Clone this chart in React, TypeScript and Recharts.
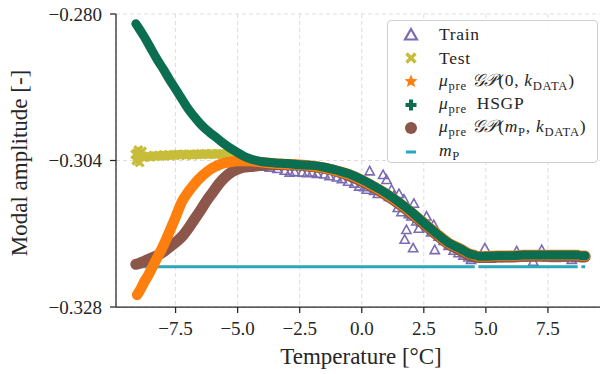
import React from 'react';
import {
  ComposedChart,
  Line,
  XAxis,
  YAxis,
  CartesianGrid,
  Legend,
  Label,
} from 'recharts';

type Pt = { x: number; y: number | null };

const FONT = '"Liberation Serif", "DejaVu Serif", serif';
const AXIS = '#262626';

const COLORS = {
  train: '#7b6bb3',
  test: '#c7bd3a',
  gp0: '#ff7f0e',
  hsgp: '#0c6e50',
  gpm: '#8c564b',
  prior: '#2aa7b9',
};

const xTicks = [-7.5, -5.0, -2.5, 0.0, 2.5, 5.0, 7.5];
const yTicks = [-0.328, -0.304, -0.28];

// measured training points (temperature, amplitude)
const trainX = [
  -4.9, -4.6, -4.3, -4.0, -3.7, -3.4, -3.1, -2.9, -2.7, -2.4, -2.2, -2.0, -1.8, -1.5, -1.3,
  -1.0, -0.8, -0.55, -0.3, -0.1, 0.1, 0.2, 0.32, 0.5, 0.65, 0.86, 1.0, 1.1, 1.2, 1.3, 1.45,
  1.5, 1.6, 1.7, 1.73, 1.8, 1.9, 2.0, 2.07, 2.1, 2.2, 2.3, 2.4, 2.61, 2.8, 2.9, 2.94, 3.1,
  3.3, 3.5, 3.7, 3.9, 4.1, 4.3, 4.4, 4.45, 4.75, 4.96, 5.2, 5.5, 5.8, 6.0, 6.24, 6.5, 6.91,
  7.25, 7.5, 7.8, 8.1, 8.46, 8.65,
];
const trainY = [
  -0.304, -0.3043, -0.3047, -0.305, -0.3052, -0.3054, -0.3057, -0.306, -0.3059, -0.306,
  -0.3061, -0.306, -0.3062, -0.3063, -0.3066, -0.3068, -0.3071, -0.3075, -0.3078, -0.3083,
  -0.3084, -0.3088, -0.3058, -0.309, -0.3095, -0.3064, -0.3072, -0.31, -0.3088, -0.3098,
  -0.3118, -0.3095, -0.3125, -0.3104, -0.317, -0.3154, -0.3128, -0.3132, -0.3184, -0.3111,
  -0.314, -0.3152, -0.3142, -0.3132, -0.3158, -0.3146, -0.3187, -0.3165, -0.3172, -0.318,
  -0.3188, -0.3192, -0.3196, -0.3199, -0.3203, -0.32, -0.32, -0.3184, -0.3201, -0.32,
  -0.3199, -0.3198, -0.3189, -0.3199, -0.3206, -0.3187, -0.3199, -0.32, -0.3199, -0.3203,
  -0.32,
];

// held-out test points at the cold end
const testX = [
  -9.12, -9.08, -9.05, -9.02, -9.0, -8.98, -8.95, -8.9, -8.85, -8.8, -8.7, -8.6, -8.5, -8.4,
  -8.3, -8.2, -8.1, -8.0, -7.9, -7.8, -7.7, -7.6, -7.5, -7.4, -7.3, -7.2, -7.1, -7.0, -6.9,
  -6.8, -6.7, -6.6, -6.5, -6.4, -6.3, -6.2, -6.1, -6.0, -5.9, -5.8, -5.7, -5.6, -5.5, -5.4,
  -5.3, -5.2, -5.1, -5.0,
];
const testY = [
  -0.303, -0.304, -0.3028, -0.3036, -0.3023, -0.3031, -0.3043, -0.3033, -0.3025, -0.3035,
  -0.3034, -0.3033, -0.3034, -0.3032, -0.3033, -0.3032, -0.3033, -0.3031, -0.3032, -0.3031,
  -0.3032, -0.3031, -0.3031, -0.303, -0.3031, -0.303, -0.3031, -0.303, -0.303, -0.3031,
  -0.303, -0.303, -0.3029, -0.303, -0.3029, -0.303, -0.3029, -0.3029, -0.303, -0.3029,
  -0.3029, -0.3029, -0.303, -0.3029, -0.3029, -0.303, -0.3029, -0.303,
];

// posterior means; null marks the gaps in the temperature record
const gp0X = [
  -9.05, -8.9, -8.75, -8.6, -8.5, -8.25, -8.0, -7.75, -7.5, -7.25, -7.0, -6.75, -6.5, -6.25,
  -6.0, -5.75, -5.5, -5.25, -5.0, -4.75, -4.5, -4.0, -3.5, -3.0, -2.5, -2.0, -1.5, -1.0, -0.5,
  0.0, 0.5, 1.0, 1.5, 2.0, 2.5, 3.0, 3.5, 4.0, 4.3, 4.55, 4.62, 4.7, 5.0, 5.5, 6.0, 6.5, 7.0,
  7.5, 8.0, 8.5, 8.7, 8.78, 8.85, 9.0,
];
const gp0Y = [
  -0.326, -0.325, -0.3238, -0.3228, -0.322, -0.32, -0.318, -0.3157, -0.3133, -0.3108, -0.3092,
  -0.3079, -0.3068, -0.3059, -0.3052, -0.3047, -0.3044, -0.3042, -0.3041, -0.3041, -0.3041,
  -0.3043, -0.3045, -0.3046, -0.3047, -0.3049, -0.3052, -0.3057, -0.3063, -0.3072, -0.3083,
  -0.3095, -0.3109, -0.3125, -0.3142, -0.3159, -0.3175, -0.3185, -0.3192, -0.3195, null,
  -0.3197, -0.3197, -0.3196, -0.3196, -0.3195, -0.3195, -0.3195, -0.3195, -0.3195, -0.3195,
  null, -0.3196, -0.3196,
];

const hsgpX = [
  -9.1, -9.0, -8.75, -8.5, -8.25, -8.0, -7.75, -7.5, -7.25, -7.0, -6.75, -6.5, -6.25, -6.0,
  -5.75, -5.5, -5.25, -5.0, -4.75, -4.5, -4.25, -4.0, -3.5, -3.0, -2.5, -2.0, -1.5, -1.0, -0.5,
  0.0, 0.5, 1.0, 1.5, 2.0, 2.5, 3.0, 3.5, 4.0, 4.3, 4.55, 4.62, 4.7, 5.0, 5.5, 6.0, 6.5, 7.0,
  7.5, 8.0, 8.5, 8.7, 8.78, 8.85, 9.0,
];
const hsgpY = [
  -0.2816, -0.2822, -0.2838, -0.2856, -0.2874, -0.289, -0.2907, -0.2923, -0.2939, -0.2955,
  -0.2968, -0.298, -0.299, -0.2998, -0.3006, -0.3014, -0.3021, -0.3027, -0.3033, -0.3037,
  -0.304, -0.3042, -0.3044, -0.3045, -0.3047, -0.3048, -0.3051, -0.3056, -0.3062, -0.3071,
  -0.3082, -0.3094, -0.3108, -0.3124, -0.3142, -0.3159, -0.3175, -0.3185, -0.3192, -0.3195,
  null, -0.3197, -0.3197, -0.3196, -0.3196, -0.3195, -0.3195, -0.3195, -0.3195, -0.3195,
  -0.3195, null, -0.3196, -0.3196,
];

const gpmX = [
  -9.1, -9.0, -8.75, -8.5, -8.25, -8.0, -7.75, -7.5, -7.25, -7.0, -6.75, -6.5, -6.25, -6.0,
  -5.75, -5.5, -5.25, -5.0, -4.75, -4.5, -4.0, -3.5, -3.0, -2.5, -2.0, -1.5, -1.0, -0.5, 0.0,
  0.5, 1.0, 1.5, 2.0, 2.5, 3.0, 3.5, 4.0, 4.3, 4.55, 4.62, 4.7, 5.0, 5.5, 6.0, 6.5, 7.0, 7.5,
  8.0, 8.5, 8.7, 8.78, 8.85, 9.0,
];
const gpmY = [
  -0.321, -0.3209, -0.3205, -0.32, -0.3196, -0.319, -0.3182, -0.3174, -0.3165, -0.3152,
  -0.3137, -0.3122, -0.3106, -0.3092, -0.3078, -0.3067, -0.3059, -0.3054, -0.3051, -0.305,
  -0.3048, -0.3047, -0.3047, -0.3048, -0.305, -0.3053, -0.3058, -0.3065, -0.3074, -0.3085,
  -0.3097, -0.3111, -0.3127, -0.3144, -0.3161, -0.3177, -0.3188, -0.3195, -0.3198, null,
  -0.3199, -0.3199, -0.3198, -0.3198, -0.3197, -0.3197, -0.3197, -0.3197, -0.3197, -0.3197,
  null, -0.3198, -0.3198,
];

// prior mean m_P
const priorX = [-9.15, 4.55, 4.62, 4.7, 8.7, 8.78, 8.85, 9.0];
const priorY = [-0.3214, -0.3214, null, -0.3214, -0.3214, null, -0.3214, -0.3214];

const zip = (xs: number[], ys: (number | null)[]): Pt[] => xs.map((x, i) => ({ x, y: ys[i] }));

const train = zip(trainX, trainY);
const test = zip(testX, testY);
const gp0 = zip(gp0X, gp0Y);
const hsgp = zip(hsgpX, hsgpY);
const gpm = zip(gpmX, gpmY);
const prior = zip(priorX, priorY);

const minus = (s: string) => s.replace('-', '\u2212');

const W = 620;
const H = 374;
const MARGIN = { top: 14, right: 12.5, bottom: 0, left: 0 };
const X_DOMAIN: [number, number] = [-9.9, 9.9];
const Y_DOMAIN: [number, number] = [-0.328, -0.28];

// marker renderers for the point series (drawn as dots of a stroke-less Line)
const triangleDot = ({ cx, cy, index }: any) => (
  <polygon
    key={`tr-${index}`}
    points={`${cx},${cy - 5} ${cx + 4.6},${cy + 3.4} ${cx - 4.6},${cy + 3.4}`}
    fill="none"
    stroke={COLORS.train}
    strokeWidth={1.6}
  />
);

const crossDot = ({ cx, cy, index }: any) => (
  <path
    key={`te-${index}`}
    d={`M${cx - 4},${cy - 4}L${cx + 4},${cy + 4}M${cx - 4},${cy + 4}L${cx + 4},${cy - 4}`}
    stroke={COLORS.test}
    strokeWidth={3.2}
  />
);

const sub = (t: string) => (
  <span style={{ fontSize: '0.72em', verticalAlign: '-0.3em', fontStyle: 'normal' }}>{t}</span>
);
const mu = (
  <>
    <i>μ</i>
    {sub('pre')}
  </>
);

const legendItems = [
  {
    key: 'train',
    icon: <polygon points="8,2 14,12.5 2,12.5" fill="none" stroke={COLORS.train} strokeWidth={2.2} />,
    text: <>Train</>,
  },
  {
    key: 'test',
    icon: <path d="M3.5,3.5L12.5,12.5M3.5,12.5L12.5,3.5" stroke={COLORS.test} strokeWidth={3.4} />,
    text: <>Test</>,
  },
  {
    key: 'gp0',
    icon: (
      <polygon
        points="8,1.5 9.9,6 14.5,6.3 11,9.3 12.1,14 8,11.5 3.9,14 5,9.3 1.5,6.3 6.1,6"
        fill={COLORS.gp0}
      />
    ),
    text: (
      <>
        {mu} <i>𝒢𝒫</i>(0,&nbsp;<i>k</i>
        {sub('DATA')})
      </>
    ),
  },
  {
    key: 'hsgp',
    icon: <path d="M8,2.5V13.5M2.5,8H13.5" stroke={COLORS.hsgp} strokeWidth={4} />,
    text: <>{mu}&nbsp; HSGP</>,
  },
  {
    key: 'gpm',
    icon: <circle cx={8} cy={8} r={6} fill={COLORS.gpm} />,
    text: (
      <>
        {mu} <i>𝒢𝒫</i>(<i>m</i>
        {sub('P')},&nbsp;<i>k</i>
        {sub('DATA')})
      </>
    ),
  },
  {
    key: 'prior',
    icon: <rect x={3} y={6.5} width={10} height={3} fill={COLORS.prior} />,
    text: (
      <>
        <i>m</i>
        {sub('P')}
      </>
    ),
  },
];

const renderLegend = () => (
  <div
    style={{
      width: 211,
      height: 143,
      boxSizing: 'border-box',
      border: '1px solid #cfcfcf',
      borderRadius: 4,
      background: 'rgba(255,255,255,0.9)',
      fontFamily: FONT,
      fontSize: 17.5,
      color: '#262626',
      paddingTop: 2,
    }}
  >
    {legendItems.map((it) => (
      <div key={it.key} style={{ display: 'flex', alignItems: 'center', height: 23.4 }}>
        <svg width={16} height={16} style={{ marginLeft: 15, marginRight: 20, flex: 'none' }}>
          {it.icon}
        </svg>
        <span style={{ whiteSpace: 'nowrap', letterSpacing: 0.7 }}>{it.text}</span>
      </div>
    ))}
  </div>
);

const App: React.FC = () => {
  return (
    <div style={{ position: 'absolute', left: 0, top: 0, width: 600, height: H, overflow: 'hidden', background: '#fff' }}>
      {/* base layer: grid, axes, observations */}
      <div style={{ position: 'absolute', left: 0, top: 0 }}>
        <ComposedChart width={W} height={H} margin={MARGIN}>
          <CartesianGrid stroke="#dddddd" strokeDasharray="4 3" />
          <XAxis
            type="number"
            dataKey="x"
            domain={X_DOMAIN}
            ticks={xTicks}
            allowDataOverflow
            height={67}
            tickSize={6}
            tickMargin={9}
            tickFormatter={(v: number) => minus(v.toFixed(1))}
            tick={{ fill: AXIS, fontFamily: FONT, fontSize: 19 }}
            stroke={AXIS}
            strokeWidth={1.25}
          >
            <Label
              content={() => (
                <text x={361} y={364} textAnchor="middle" fill={AXIS} fontFamily={FONT} fontSize={23}>
                  Temperature [°C]
                </text>
              )}
            />
          </XAxis>
          <YAxis
            type="number"
            dataKey="y"
            domain={Y_DOMAIN}
            ticks={yTicks}
            allowDataOverflow
            width={116}
            tickSize={6}
            tickMargin={8}
            tickFormatter={(v: number) => minus(v.toFixed(3))}
            tick={{ fill: AXIS, fontFamily: FONT, fontSize: 19 }}
            stroke={AXIS}
            strokeWidth={1.25}
          >
            <Label
              content={() => (
                <text
                  x={27}
                  y={163}
                  transform="rotate(-90 27 163)"
                  textAnchor="middle"
                  fill={AXIS}
                  fontFamily={FONT}
                  fontSize={23}
                >
                  Modal amplitude [-]
                </text>
              )}
            />
          </YAxis>
          <Line data={train} dataKey="y" stroke="none" dot={triangleDot} activeDot={false} isAnimationActive={false} />
          <Line data={test} dataKey="y" stroke="none" dot={crossDot} activeDot={false} isAnimationActive={false} />
        </ComposedChart>
      </div>

      {/* overlay layer: prior mean and posterior means on the same scales */}
      <div style={{ position: 'absolute', left: 0, top: 0 }}>
        <ComposedChart width={W} height={H} margin={MARGIN}>
          <XAxis
            type="number"
            dataKey="x"
            domain={X_DOMAIN}
            ticks={xTicks}
            allowDataOverflow
            height={67}
            tick={false}
            tickLine={false}
            axisLine={false}
          />
          <YAxis
            type="number"
            dataKey="y"
            domain={Y_DOMAIN}
            ticks={yTicks}
            allowDataOverflow
            width={116}
            tick={false}
            tickLine={false}
            axisLine={false}
          />
          <Line
            data={prior}
            dataKey="y"
            type="linear"
            stroke={COLORS.prior}
            strokeWidth={3}
            dot={false}
            isAnimationActive={false}
          />
          <Line
            data={gpm}
            dataKey="y"
            type="monotone"
            stroke={COLORS.gpm}
            strokeWidth={11}
            strokeLinecap="round"
            strokeLinejoin="round"
            dot={false}
            isAnimationActive={false}
          />
          <Line
            data={gp0}
            dataKey="y"
            type="monotone"
            stroke={COLORS.gp0}
            strokeWidth={10.5}
            strokeLinecap="round"
            strokeLinejoin="round"
            dot={false}
            isAnimationActive={false}
          />
          <Line
            data={hsgp}
            dataKey="y"
            type="monotone"
            stroke={COLORS.hsgp}
            strokeWidth={9}
            strokeLinecap="round"
            strokeLinejoin="round"
            dot={false}
            isAnimationActive={false}
          />
          <Legend
            content={renderLegend}
            layout="horizontal"
            align="center"
            verticalAlign="middle"
            wrapperStyle={{ position: 'absolute', left: 387, top: 20, width: 211, height: 143 }}
          />
        </ComposedChart>
      </div>
    </div>
  );
};

export default App;
